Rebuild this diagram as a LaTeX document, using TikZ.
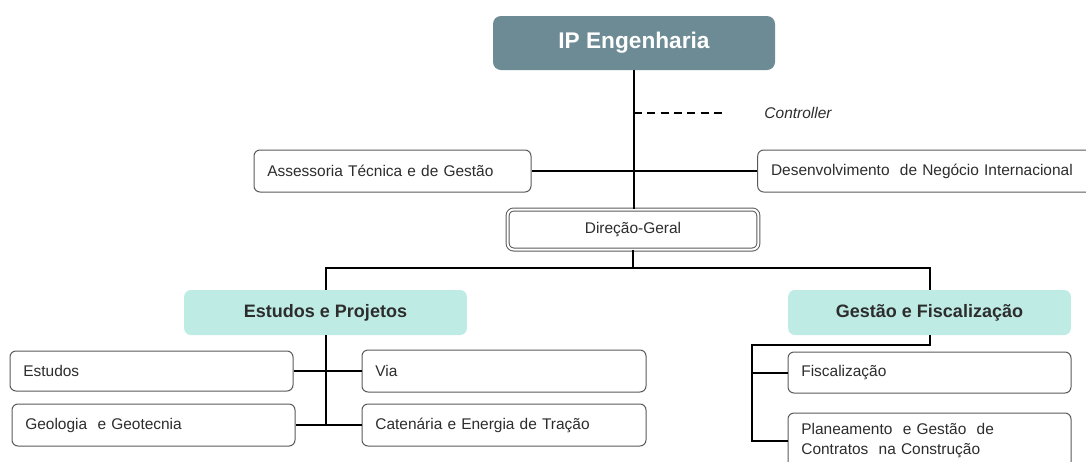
\documentclass[tikz,border=0pt]{standalone}
\usepackage{fontspec}
\setmainfont{Liberation Sans}
\usetikzlibrary{positioning}

\definecolor{topfill}{RGB}{108,139,148}
\definecolor{groupfill}{RGB}{190,236,229}
\definecolor{boxgray}{RGB}{90,90,90}
\definecolor{textgray}{RGB}{45,45,45}

\tikzset{
  unitbox/.style={draw=boxgray, fill=white, rounded corners=4.5pt, line width=0.75pt,
    font=\fontsize{11.6}{15}\selectfont, text=textgray, align=left, inner xsep=10pt, inner ysep=0pt},
  groupbox/.style={fill=groupfill, rounded corners=5pt, minimum width=212pt, minimum height=33.75pt,
    font=\fontsize{13.5}{16}\selectfont\bfseries, text=textgray},
  link/.style={line width=1.5pt, black}
}

\begin{document}
\begin{tikzpicture}[x=0.75pt,y=-0.75pt]
  \useasboundingbox (0,0) rectangle (1086,461);
  \node[fill=topfill, rounded corners=6pt, minimum width=211.5pt, minimum height=40.5pt,
    font=\fontsize{17}{20}\selectfont\bfseries, text=white] (top) at (634,43) {IP Engenharia};
  \node[font=\fontsize{11.6}{14}\selectfont\itshape, text=textgray] (ctrl) at (798,113) {Controller};
  \coordinate (dashend) at (725,113);
  \node[unitbox, text width=187.75pt, minimum height=31.5pt] (assessoria) at (392.5,171) {Assessoria Técnica e de Gestão};
  \node[unitbox, text width=240pt, minimum height=31.5pt] (desenv) at (931,171) {Desenvolvimento\ \ de Negócio Internacional};
  \node[unitbox, double=white, double distance=1.5pt, align=center, minimum width=188pt, minimum height=30pt] (direcao) at (633,229.5) {Direção-Geral};
  \coordinate (bus) at (634,268);
  \node[groupbox] (estproj) at (325.5,312.5) {Estudos e Projetos};
  \node[groupbox] (gestfisc) at (929.5,312.5) {Gestão e Fiscalização};
  \node[unitbox, text width=192.25pt, minimum height=30pt] (estudos) at (151.5,371) {Estudos};
  \node[unitbox, text width=193pt, minimum height=31.5pt] (via) at (504,371) {Via};
  \node[unitbox, text width=192.25pt, minimum height=31.5pt] (geologia) at (153.5,425) {Geologia\ \ e Geotecnia};
  \node[unitbox, text width=193pt, minimum height=31.5pt] (catenaria) at (504,425) {Catenária e Energia de Tração};
  \coordinate (gfbus) at (752,345);
  \node[unitbox, text width=192.25pt, minimum height=30.75pt] (fiscal) at (929.5,372.5) {Fiscalização};
  \node[unitbox, text width=192.25pt, minimum height=42pt] (planeam) at (929.5,441) {Planeamento\ \ e Gestão\ \ de\\Contratos\ \ na Construção};

  \draw[link] (top.south) -- (top.south |- direcao.north);
  \draw[link, line width=1pt, dashed, dash pattern=on 6pt off 4pt] (top.south |- dashend) -- (dashend);
  \draw[link] (assessoria.east) -- (top.south |- assessoria.east) -- (desenv.west);
  \draw[link] (direcao.south) -- (direcao.south |- bus);
  \draw[link] (estproj.north) |- (bus) -| (gestfisc.north);
  \draw[link] (estproj.south) -- (estproj.south |- catenaria.west);
  \draw[link] (estudos.east) -- (via.west);
  \draw[link] (geologia.east) -- (catenaria.west);
  \draw[link] (gestfisc.south) |- (gfbus) |- (planeam.west);
  \draw[link] (gfbus |- fiscal.west) -- (fiscal.west);
\end{tikzpicture}
\end{document}
